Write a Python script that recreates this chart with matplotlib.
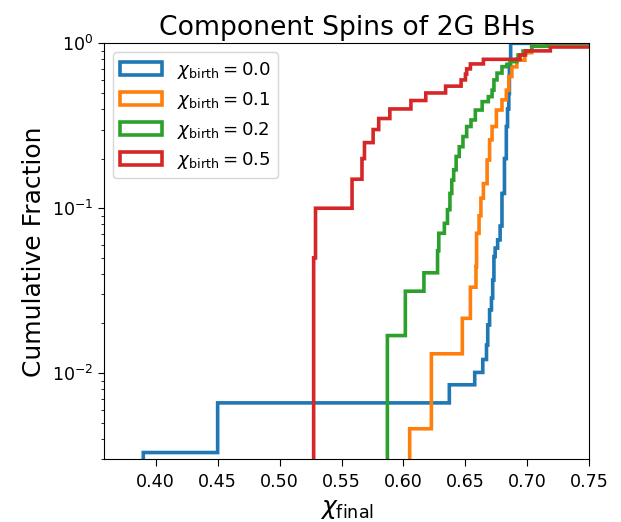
from pathlib import Path

import matplotlib

matplotlib.use("Agg")
import matplotlib.pyplot as plt
import numpy as np

# spin values where each cumulative curve steps, and the cumulative fraction reached there
blue_spin = [0.390, 0.450, 0.637, 0.6578, 0.6641, 0.6673, 0.6680, 0.6696, 0.6710, 0.6723,
             0.6734, 0.6742, 0.6761, 0.6782, 0.6796, 0.6815, 0.6830, 0.6840, 0.6850, 0.6858,
             0.6865]
blue_frac = [0.0033, 0.0066, 0.0085, 0.0101, 0.0121, 0.0148, 0.0196, 0.0242, 0.0285, 0.0367,
             0.0509, 0.0573, 0.0643, 0.078, 0.123, 0.20, 0.313, 0.40, 0.497, 0.72,
             1.0]

orange_spin = [0.6051, 0.6226, 0.6476, 0.6543, 0.6586, 0.6594, 0.6613, 0.6629, 0.6648, 0.6675,
               0.6696, 0.6715, 0.6750, 0.6796, 0.6830, 0.6850, 0.6877, 0.6917, 0.6984, 0.7038,
               0.7091]
orange_frac = [0.0046, 0.0131, 0.0215, 0.0332, 0.0443, 0.0705, 0.090, 0.115, 0.141, 0.196,
               0.26, 0.313, 0.394, 0.454, 0.52, 0.63, 0.72, 0.79, 0.877, 0.96,
               1.0]

green_spin = [0.5874, 0.6019, 0.6169, 0.6277, 0.6287, 0.6330, 0.6357, 0.6379, 0.6392, 0.6406,
              0.6427, 0.6454, 0.6481, 0.6513, 0.6546, 0.6580, 0.6635, 0.6688, 0.6715, 0.6734,
              0.6756, 0.6796, 0.6836, 0.6863, 0.6917, 0.6930, 0.6970, 0.7038, 0.7160]
green_frac = [0.0169, 0.0314, 0.0406, 0.0553, 0.0705, 0.081, 0.098, 0.123, 0.148, 0.171,
              0.206, 0.236, 0.272, 0.313, 0.343, 0.394, 0.443, 0.475, 0.52, 0.60,
              0.66, 0.722, 0.746, 0.775, 0.80, 0.849, 0.898, 0.96, 1.0]

red_spin = [0.5277, 0.5290, 0.5586, 0.5667, 0.5688, 0.5755, 0.5801, 0.5890, 0.6062, 0.6183,
            0.6344, 0.6468, 0.6500, 0.6513, 0.6540, 0.6648, 0.6944, 0.6990, 0.7185, 0.7700]
red_frac = [0.05, 0.10, 0.15, 0.20, 0.25, 0.30, 0.35, 0.40, 0.45, 0.50,
            0.55, 0.60, 0.65, 0.70, 0.75, 0.80, 0.85, 0.90, 0.95, 1.0]

chi_birth = ["0.0", "0.1", "0.2", "0.5"]
colors = ["tab:blue", "tab:orange", "tab:green", "tab:red"]


def main() -> None:
    fp: Path = Path("out.png")
    fig, ax = plt.subplots(figsize=(6.21, 5.22), dpi=100)
    fig.subplots_adjust(left=0.1675, right=0.949, bottom=0.12, top=0.917)

    bins = np.linspace(0.3, 0.8, 1001)
    series = [(blue_spin, blue_frac), (orange_spin, orange_frac),
              (green_spin, green_frac), (red_spin, red_frac)]
    for (spin, frac), cb, col in zip(series, chi_birth, colors):
        w = np.diff(np.asarray(frac), prepend=0.0)
        ax.hist(spin, bins=bins, weights=w, cumulative=True, density=True,
                histtype="step", log=True, color=col, lw=2.6,
                label=r"$\chi_{\rm birth} = " + cb + "$")

    ax.set_xlim(0.3583, 0.75)
    ax.set_ylim(0.003, 1.0)
    ax.set_xticks(np.arange(0.40, 0.751, 0.05))
    ax.tick_params(labelsize=12.6)
    ax.tick_params(axis="x", which="major", length=5.0, pad=5.0)
    ax.tick_params(axis="y", which="major", length=4.2)
    ax.set_xlabel(r"$\chi_{\rm final}$", fontsize=18)
    ax.set_ylabel("Cumulative Fraction", fontsize=18)
    ax.set_title("Component Spins of 2G BHs", fontsize=19.2)
    ax.legend(loc="upper left", fontsize=13.1, handlelength=2.3)

    fig.savefig(fp, dpi=100)
    plt.close(fig)
    return None


if __name__ == "__main__":
    main()
